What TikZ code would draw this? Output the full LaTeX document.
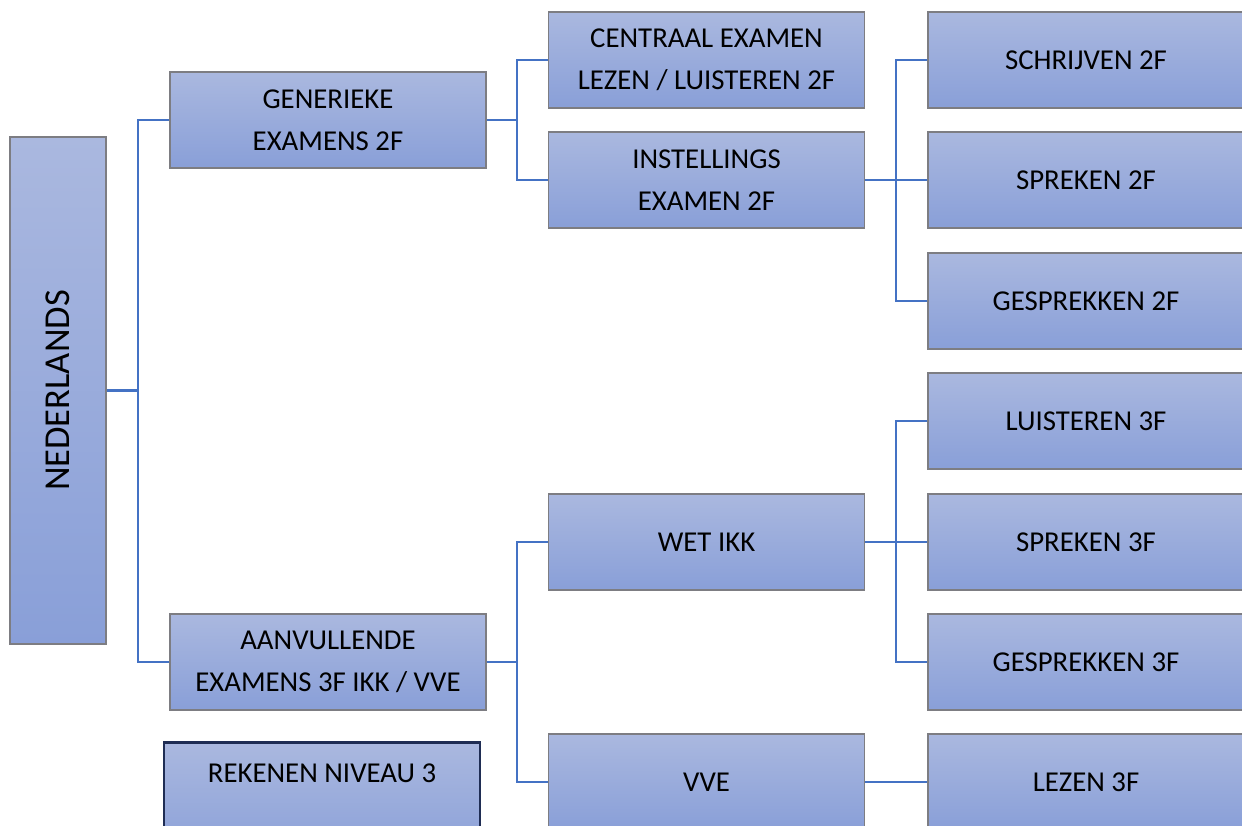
\documentclass[tikz,border=0pt]{standalone}
\usepackage{fontspec}
\setmainfont{Carlito}
\definecolor{boxtop}{RGB}{170,184,223}
\definecolor{boxbot}{RGB}{137,159,216}
\definecolor{boxline}{RGB}{125,125,130}
\definecolor{conncol}{RGB}{68,114,196}
\definecolor{navy}{RGB}{31,45,84}
\begin{document}
\begin{tikzpicture}[x=1pt,y=-1pt,
  box/.style={draw=boxline, line width=1.3pt, top color=boxtop, bottom color=boxbot,
    minimum width=316pt, minimum height=96pt, inner sep=0pt, align=center,
    font={\fontsize{28.8}{42}\selectfont}},
  rbox/.style={box, minimum width=316pt},
  conn/.style={draw=conncol, line width=2.6pt}]
\useasboundingbox (0,0) rectangle (1242,825);
\clip (0,0) rectangle (1242,825);
% level 0
\node[box, minimum width=96pt, minimum height=507pt] (ned) at (58,390.5)
  {\rotatebox{90}{\fontsize{36.5}{40}\selectfont NEDERLANDS}};
% level 1
\node[box] (gen) at (328,120) {GENERIEKE\\EXAMENS 2F};
\node[box] (aan) at (328,662) {AANVULLENDE\\EXAMENS 3F IKK / VVE};
\node[box, draw=navy, line width=2.6pt, minimum height=120pt, anchor=north] (rek) at (322,741) {};
\node[font={\fontsize{28.8}{42}\selectfont}] (rekt) at (322,773) {REKENEN NIVEAU 3};
% level 2
\node[box] (cen) at (706.5,60) {CENTRAAL EXAMEN\\LEZEN / LUISTEREN 2F};
\node[box] (ins) at (706.5,180) {INSTELLINGS\\EXAMEN 2F};
\node[box] (wet) at (706.5,542) {WET IKK};
\node[box] (vve) at (706.5,782) {VVE};
% level 3
\node[rbox] (sch) at (1086,60) {SCHRIJVEN 2F};
\node[rbox] (spr2) at (1086,180) {SPREKEN 2F};
\node[rbox] (ges2) at (1086,301) {GESPREKKEN 2F};
\node[rbox] (lui) at (1086,421) {LUISTEREN 3F};
\node[rbox] (spr3) at (1086,542) {SPREKEN 3F};
\node[rbox] (ges3) at (1086,662) {GESPREKKEN 3F};
\node[rbox] (lez) at (1086,782) {LEZEN 3F};
% junctions
\coordinate (j1) at (138,390.5);
\coordinate (j2) at (517,120);
\coordinate (j3) at (517,662);
\coordinate (j4) at (896,180);
\coordinate (j5) at (896,542);
% connectors
\draw[conn] (ned.east) -- (j1);
\draw[conn] (gen.west) -| (j1);
\draw[conn] (aan.west) -| (j1);
\draw[conn] (gen.east) -- (j2);
\draw[conn] (cen.west) -| (j2);
\draw[conn] (ins.west) -| (j2);
\draw[conn] (aan.east) -- (j3);
\draw[conn] (wet.west) -| (j3);
\draw[conn] (vve.west) -| (j3);
\draw[conn] (ins.east) -- (j4);
\draw[conn] (sch.west) -| (j4);
\draw[conn] (spr2.west) -| (j4);
\draw[conn] (ges2.west) -| (j4);
\draw[conn] (wet.east) -- (j5);
\draw[conn] (lui.west) -| (j5);
\draw[conn] (spr3.west) -| (j5);
\draw[conn] (ges3.west) -| (j5);
\draw[conn] (vve.east) -- (lez.west);
\end{tikzpicture}
\end{document}
